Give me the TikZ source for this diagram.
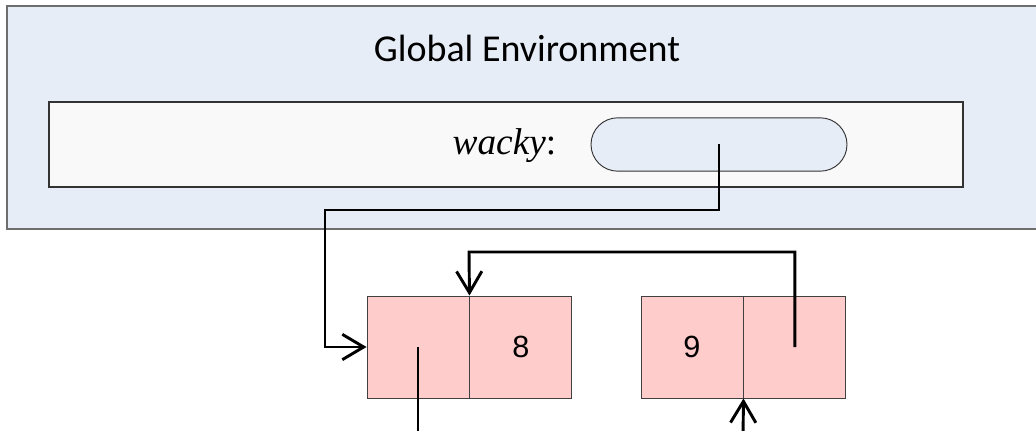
\documentclass[tikz,border=0pt]{standalone}
\usepackage{fontspec}
\newfontfamily\calfont{Carlito}
\newfontfamily\arialfont{Liberation Sans}
\newfontfamily\timesfont{Liberation Serif}
\usepackage{tikz}
\usetikzlibrary{arrows.meta}
\usetikzlibrary{shapes.misc,fit}
\usetikzlibrary{positioning}

\definecolor{envblue}{HTML}{E6EDF7}
\definecolor{framegray}{HTML}{F9F9F9}
\definecolor{pairpink}{HTML}{FFCCCC}
\definecolor{edgegray}{HTML}{6E6E6E}

\begin{document}
\begin{tikzpicture}[x=0.75pt,y=-0.75pt,
	envbox/.style={draw=edgegray,line width=1.1pt,fill=envblue,inner sep=0pt},
	framebox/.style={draw=black!80,line width=0.9pt,fill=framegray,inner sep=0pt},
	slot/.style={rounded rectangle,draw=black!80,line width=0.7pt,fill=envblue,
		minimum width=192pt,minimum height=40pt,inner sep=0pt},
	cell/.style={draw=black!75,line width=0.7pt,fill=pairpink,
		minimum width=76.5pt,minimum height=76.5pt,inner sep=0pt,font=\arialfont\fontsize{23}{26}\selectfont},
	ptr/.style={line width=2.2pt,-{Straight Barb[length=16pt,width=19pt,line width=2.2pt]}},
	ptrline/.style={line width=2.2pt}]
	\useasboundingbox (0,0) rectangle (1036,431);
	\clip (0,0) rectangle (1036,431);
	% environment
	\node[envbox,fit={(7,6)(1060,229)}] (env) {};
	\node[font=\calfont\fontsize{28.5}{32}\selectfont] (title) at (527,48) {Global Environment};
	\node[framebox,fit={(49,102)(963,187)}] (frame) {};
	\node[font=\timesfont\fontsize{28}{32}\selectfont,anchor=east] (name) at (561,146) {\textit{wacky}:};
	\node[slot] (slot) at (719,144.5) {};
	% pairs
	\node[cell] (car1) at (418,347) {};
	\node[cell,right=0pt of car1] (cdr1) {8};
	\node[cell] (car2) at (692,347) {9};
	\node[cell,right=0pt of car2] (cdr2) {};
	% pointers
	\coordinate (turn1) at (325,210);
	\coordinate (turn2) at (469,252);
	\coordinate (out1) at (418,440);
	\coordinate (in2) at (743,440);
	\draw[ptr] (slot.center) |- (turn1) |- (car1.west);
	\draw[ptr] (cdr2.center) |- (turn2) -- (car1.north east);
	\draw[ptrline] (car1.center) -- (out1);
	\draw[ptr] (in2) -- (car2.south east);
\end{tikzpicture}
\end{document}
